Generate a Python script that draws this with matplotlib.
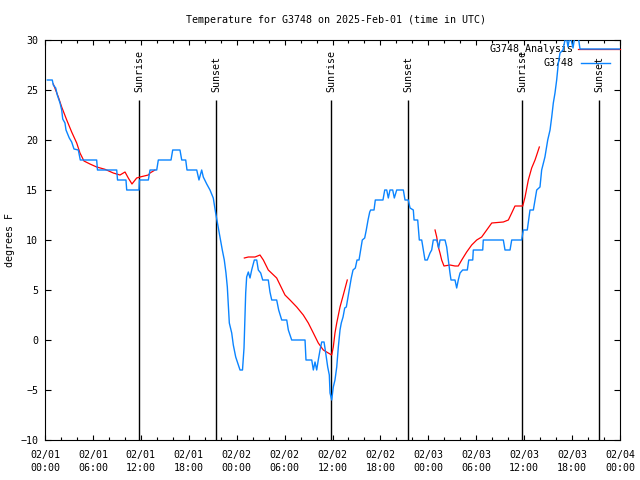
import matplotlib
matplotlib.use("Agg")
import matplotlib.pyplot as plt
import numpy as np

plt.rcParams["font.family"] = ["DejaVu Sans Mono"]
plt.rcParams["font.size"] = 7.2

STATION = "G3748"
TITLE = "Temperature for G3748 on 2025-Feb-01 (time in UTC)"

# hours since 02/01 00:00 UTC
obs_hours = [0.29, 0.91, 1.04, 1.34, 1.54, 1.88, 2.09, 2.22, 2.50, 2.63, 3.04, 3.34, 3.63, 4.17, 4.42,
             6.47, 6.57, 8.98, 9.08, 10.14, 10.23, 11.77, 11.83, 12.94, 13.15, 13.99, 14.19, 15.78,
             15.99, 16.90, 17.12, 17.62, 17.78, 19.00, 19.28, 19.62, 19.82, 20.25, 20.66, 21.07,
             21.37, 21.91, 22.20, 22.45, 22.66, 22.83, 23.08, 23.38, 23.58, 23.88, 24.13, 24.42,
             24.73, 24.92, 25.13, 25.25, 25.46, 25.67, 25.88, 26.21, 26.51, 26.71, 27.01, 27.26,
             27.96, 28.17, 28.39, 29.01, 29.26, 29.64, 30.27, 30.47, 30.89, 32.56, 32.68, 33.40,
             33.60, 33.81, 34.02, 34.22, 34.44, 34.65, 34.94, 35.15, 35.40, 35.60, 35.69, 35.90,
             36.10, 36.31, 36.53, 36.73, 36.94, 37.10, 37.32, 37.53, 37.73, 37.94, 38.15, 38.35,
             38.57, 38.86, 39.07, 39.32, 39.53, 39.73, 40.03, 40.23, 40.45, 40.66, 40.78, 41.20,
             41.36, 42.32, 42.54, 42.79, 42.99, 43.20, 43.54,
             43.74, 44.04, 44.87, 45.08, 45.49, 45.71, 46.12, 46.21, 46.67, 46.87, 47.17, 47.37,
             47.58, 47.87, 48.21, 48.42, 48.62, 49.05, 49.30, 49.46, 50.09, 50.30, 50.50, 50.71,
             50.84, 51.34, 51.55, 51.75, 51.97, 52.30, 52.88, 53.06, 53.56, 53.63, 54.81, 54.88,
             57.39, 57.60, 58.23, 58.44, 59.69, 59.89, 60.39, 60.73, 61.15, 61.57, 61.98, 62.19,
             62.60, 62.95, 63.24, 63.45, 63.65, 63.86, 64.07, 64.28, 64.49, 64.86, 65.24, 65.49,
             65.74, 66.12, 66.37, 66.74, 66.99, 72.0]
obs_temp = [26, 26, 25.5, 25.2, 24.5, 23.7, 23, 22.1, 21.7, 21, 20.2, 19.8, 19.1, 19, 18,
            18, 17, 17, 16, 16, 15, 15, 16, 16, 17, 17, 18, 18,
            19, 19, 18, 18, 17, 17, 16, 17, 16.3, 15.6, 15, 14.2,
            12.7, 10.3, 9, 8, 6.7, 5.3, 1.7, 0.7, -0.5, -1.7, -2.3, -3,
            -3, -0.8, 4.7, 6.3, 6.8, 6.2, 7, 8, 8, 7, 6.7, 6,
            6, 4.8, 4, 4, 3, 2, 2, 1, 0, 0, -2, -2,
            -3, -2.2, -3, -2, -1, -0.2, -0.2, -1.3, -2.7, -3.5, -5.3, -6,
            -4.7, -4, -2.7, -0.7, 1, 1.7, 2.3, 3.2, 3.3, 4.3, 5.3, 6.2,
            7, 7.2, 8, 8, 9, 10, 10.2, 11, 12, 12.8, 13, 13,
            14, 14, 15, 15, 14.2, 15, 15,
            14.2, 15, 15, 14, 14, 13.2, 13, 12, 12, 10, 10, 9,
            8, 8, 8.7, 9, 10, 10, 9.2, 10, 10, 9.3, 8, 6.7,
            6, 6, 5.2, 6, 6.7, 7, 7, 8, 8, 9, 9, 10,
            10, 9, 9, 10, 10, 11, 11, 13, 13, 15, 15.3, 17,
            18.3, 20, 21, 22.3, 23.7, 24.7, 26, 27.7, 28.7, 29, 30.5, 29.3,
            30.5, 29.2, 30.5, 30.5, 29.1, 29.1]

# analysis series, NaN marks gaps
ana_hours = [1.04, 1.67, 2.09, 2.72, 3.34, 3.97, 4.38, 4.88, 5.63, 6.47, 7.51, 8.55, 9.39, 10.02,
             10.43, 10.89, 11.48, 11.90, 12.94, 13.15, 13.77, 14.0,
             24.96, 25.46, 26.30, 26.92, 27.34, 27.96, 29.01, 30.05, 30.68, 31.52, 32.34, 32.97,
             33.60, 34.22, 34.85, 35.47, 35.90, 36.10, 36.31, 36.53, 36.94, 37.35, 37.85, 38.0,
             48.84, 49.05, 49.25, 49.46, 49.67, 49.96, 50.71, 51.34, 51.75, 52.18, 52.80, 53.43,
             54.06, 54.68, 55.31, 55.94, 57.39, 58.02, 58.44, 58.85, 59.82, 60.11, 60.52, 60.94,
             61.36, 61.57, 61.90]
ana_temp = [25.6, 24.3, 23.3, 22, 20.8, 19.7, 18.7, 17.9, 17.6, 17.3, 17.07, 16.7, 16.5, 16.8,
            16.2, 15.6, 16.2, 16.3, 16.5, 16.7, 17, np.nan,
            8.2, 8.3, 8.3, 8.5, 8, 7, 6.2, 4.5, 4, 3.3, 2.5, 1.7,
            0.7, -0.3, -1, -1.3, -1.5, -0.7, 0.7, 1.7, 3.3, 4.5, 6, np.nan,
            11, 10.3, 9.3, 8.7, 8, 7.4, 7.5, 7.4, 7.4, 8, 8.8, 9.5,
            10, 10.3, 11, 11.7, 11.8, 12, 12.7, 13.4, 13.4, 14.3, 16, 17.2,
            18, 18.5, 19.3]

sun_hours = [11.77, 21.41, 35.81, 45.45, 59.73, 69.37]
sun_labels = ["Sunrise", "Sunset", "Sunrise", "Sunset", "Sunrise", "Sunset"]

BLUE = "#0a84ff"
RED = "#ff0000"

fig = plt.figure(figsize=(6.4, 4.8), dpi=100)
ax = fig.add_axes([45 / 640, 40 / 480, 575 / 640, 400 / 480])

ax.plot(ana_hours, ana_temp, color=RED, lw=0.9, zorder=3)
ax.plot(obs_hours, obs_temp, color=BLUE, lw=1.0, zorder=4)

for h, lab in zip(sun_hours, sun_labels):
    ax.vlines(h, -10, 24, color="black", lw=1.0, zorder=2)
    ax.text(h, 24.8, lab, rotation=90, ha="center", va="bottom", zorder=5)

# key, gnuplot style
ax.text(0.92, 0.9775, STATION + "_Analysis", transform=ax.transAxes, ha="right", va="center")
ax.plot([0.927, 1.0], [0.9775, 0.9775], transform=ax.transAxes, color=RED, lw=0.9, zorder=3,
        clip_on=False)
ax.text(0.92, 0.9425, STATION, transform=ax.transAxes, ha="right", va="center")
ax.plot([0.932, 0.983], [0.9425, 0.9425], transform=ax.transAxes, color=BLUE, lw=1.0, zorder=4)

ax.set_xlim(0, 72)
ax.set_ylim(-10, 30)
xt = np.arange(0, 73, 6)
ax.set_xticks(xt)
ax.set_xticklabels([f"02/{1 + int(h) // 24:02d}\n{int(h) % 24:02d}:00" for h in xt], linespacing=1.4)
ax.set_xticks(np.arange(0, 73, 2), minor=True)
ax.set_yticks(np.arange(-10, 31, 5))
ax.tick_params(which="both", direction="in", top=True, right=True, width=0.8)
ax.tick_params(axis="x", which="major", length=3.5, pad=7)
ax.tick_params(axis="x", which="minor", length=2)
ax.tick_params(axis="y", length=4, pad=5)
for s in ax.spines.values():
    s.set_linewidth(0.8)

fig.text(336 / 640, 1 - 20 / 480, TITLE, ha="center", va="center")
fig.text(10 / 640, 0.5, "degrees F", rotation=90, ha="center", va="center")

fig.savefig("out.png", dpi=100)
